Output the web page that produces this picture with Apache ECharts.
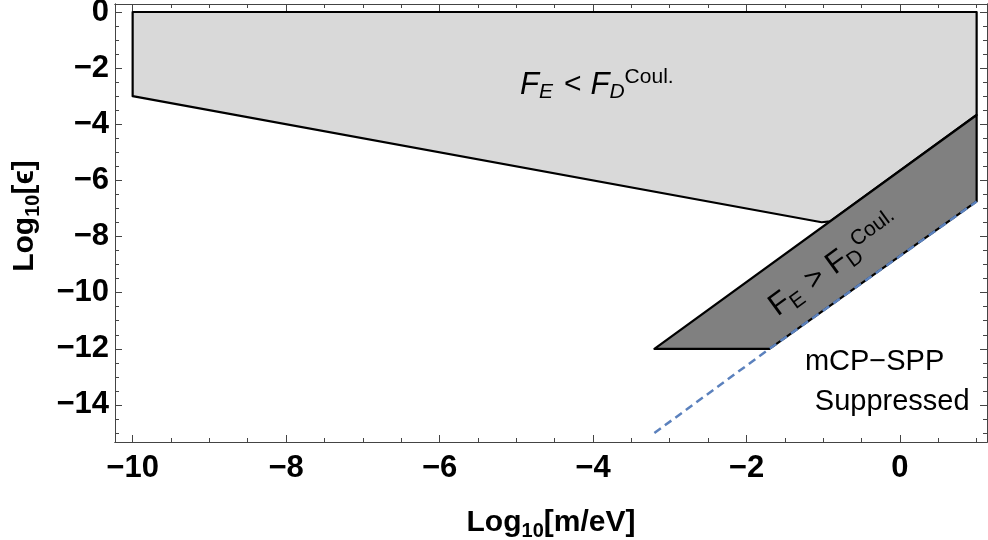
<!DOCTYPE html>
<html lang="en">
<head>
<meta charset="UTF-8">
<title>mCP regions</title>
<style>
    html, body { margin: 0; padding: 0; background: #fff; }
    #main { width: 988px; height: 540px; }
</style>
</head>
<body>
<div id="main"></div>
<script src="https://cdn.jsdelivr.net/npm/echarts@6/dist/echarts.min.js"></script>
<script>
    // axis ranges and tick labels
    var xMin = -10.23, xMax = 1.135;
    var yMin = -15.32, yMax = 0.285;
    var xTicks = [-10, -8, -6, -4, -2, 0];
    var yTicks = [0, -2, -4, -6, -8, -10, -12, -14];

    // light region: F_E < F_D^Coul.
    var lightX = [-10, 1, 1, -0.91, -1.02, -10];
    var lightY = [0, 0, -3.67, -7.46, -7.49, -3];
    // dark region: F_E > F_D^Coul.
    var darkX = [-3.2, -1.7, 1, 1];
    var darkY = [-12, -12, -6.75, -3.67];
    // mCP-SPP suppression boundary (dashed)
    var sppX = [-3.2, -1.7, 1];
    var sppY = [-15, -12, -6.75];

    function zip(xs, ys) {
        return xs.map(function (x, i) { return [x, ys[i]]; });
    }
    var lightPts = zip(lightX, lightY);
    var darkPts = zip(darkX, darkY);
    var sppPts = zip(sppX, sppY);

    // minor tick positions (every 0.5, skipping the majors)
    var xMinor = [], yMinor = [];
    for (var v = -10; v <= 1.001; v += 0.5) { if (Math.abs(v % 2) > 0.01) xMinor.push(v); }
    for (var w = -15; w <= 0.001; w += 0.5) { if (Math.abs(w % 2) > 0.01) yMinor.push(w); }

    var FONT = 'Liberation Sans';
    var frame = '#444';

    function tickText(v) {
        return v < 0 ? '\u2212' + Math.abs(v) : String(v);
    }

    var nameRich = {
        a: { fontFamily: FONT, fontWeight: 'bold', fontSize: 30, color: '#000', lineHeight: 36 },
        s: { fontFamily: FONT, fontWeight: 'bold', fontSize: 20, color: '#000', lineHeight: 20, verticalAlign: 'bottom' }
    };

    function xAxis(pos, ticks, len, withLabels) {
        var ax = {
            type: 'value', position: pos, min: xMin, max: xMax,
            axisLine: { show: true, onZero: false, lineStyle: { color: frame, width: 1 } },
            axisTick: { show: true, inside: true, length: len, customValues: ticks, lineStyle: { color: frame, width: 1 } },
            axisLabel: { show: false },
            splitLine: { show: false }
        };
        if (withLabels) {
            ax.axisLabel = {
                show: true, customValues: xTicks, margin: 11,
                color: '#000', fontFamily: FONT, fontWeight: 'bold', fontSize: 31,
                formatter: tickText
            };
            ax.name = '{a|Log}{s|10}{a|[m/eV]}';
            ax.nameLocation = 'middle';
            ax.nameGap = 63;
            ax.nameMoveOverlap = false;
            ax.nameTextStyle = { rich: nameRich };
        }
        return ax;
    }

    function yAxis(pos, ticks, len, withLabels) {
        var ax = {
            type: 'value', position: pos, min: yMin, max: yMax,
            axisLine: { show: true, onZero: false, lineStyle: { color: frame, width: 1 } },
            axisTick: { show: true, inside: true, length: len, customValues: ticks, lineStyle: { color: frame, width: 1 } },
            axisLabel: { show: false },
            splitLine: { show: false }
        };
        if (withLabels) {
            ax.axisLabel = {
                show: true, customValues: yTicks, margin: 6,
                color: '#000', fontFamily: FONT, fontWeight: 'bold', fontSize: 31,
                formatter: tickText
            };
            ax.name = '{a|Log}{s|10}{a|[\u03F5]}';
            ax.nameLocation = 'middle';
            ax.nameRotate = 90;
            ax.nameGap = 72;
            ax.nameMoveOverlap = false;
            ax.nameTextStyle = { rich: nameRich, padding: [0, 0, 0, 14] };
        }
        return ax;
    }

    function polygonSeries(pts, fill) {
        return {
            type: 'custom',
            xAxisIndex: 0, yAxisIndex: 0,
            data: pts,
            renderItem: function (params, api) {
                if (params.dataIndex !== 0) return;
                return {
                    type: 'polygon',
                    shape: { points: pts.map(function (p) { return api.coord(p); }) },
                    style: { fill: fill, stroke: '#000', lineWidth: 2.2, lineJoin: 'round' }
                };
            },
            silent: true
        };
    }

    function regionRich(italic) {
        var st = italic ? 'italic' : 'normal';
        return {
            f: { fontFamily: FONT, fontSize: 31, fontStyle: st, color: '#000', lineHeight: 36 },
            e: { fontFamily: FONT, fontSize: 21, fontStyle: st, color: '#000', lineHeight: 21, verticalAlign: 'bottom' },
            t: { fontFamily: FONT, fontSize: 30, color: '#000', lineHeight: 36, padding: [0, 9, 0, 11] },
            c: { fontFamily: FONT, fontSize: 21, color: '#000', lineHeight: 21, verticalAlign: 'top' }
        };
    }

    var chart = echarts.init(document.getElementById('main'));
    chart.setOption({
        animation: false,
        backgroundColor: '#fff',
        grid: { left: 115, right: 1, top: 4, bottom: 98, containLabel: false, outerBoundsMode: 'none' },
        xAxis: [
            xAxis('bottom', xTicks, 7, true),
            xAxis('bottom', xMinor, 4, false),
            xAxis('top', xTicks, 7, false),
            xAxis('top', xMinor, 4, false)
        ],
        yAxis: [
            yAxis('left', yTicks, 7, true),
            yAxis('left', yMinor, 4, false),
            yAxis('right', yTicks, 7, false),
            yAxis('right', yMinor, 4, false)
        ],
        series: [
            polygonSeries(lightPts, '#d9d9d9'),
            polygonSeries(darkPts, '#808080'),
            {
                type: 'line',
                xAxisIndex: 0, yAxisIndex: 0,
                data: sppPts,
                symbol: 'none',
                lineStyle: { color: '#5b81bd', width: 2.5, type: [8, 5] },
                silent: true
            },
            {
                type: 'scatter',
                xAxisIndex: 0, yAxisIndex: 0,
                symbolSize: 0,
                silent: true,
                itemStyle: { opacity: 1 },
                label: { show: true, position: 'inside', textBorderWidth: 0, color: '#000', opacity: 1 },
                data: [
                    { value: [-3.95, -2.6], label: { formatter: '{f|F}{e|E}{t|<}{f|F}{e|D}{c|Coul.}', rich: regionRich(true) } },
                    { value: [-0.85, -9.0], label: { rotate: 36, formatter: '{f|F}{e|E}{t|>}{f|F}{e|D}{c|Coul.}', rich: regionRich(false) } },
                    { value: [-0.33, -12.46], label: { formatter: 'mCP\u2212SPP', fontFamily: FONT, fontSize: 29, color: '#000', textBorderWidth: 0 } },
                    { value: [-0.1, -13.88], label: { formatter: 'Suppressed', fontFamily: FONT, fontSize: 29, color: '#000', textBorderWidth: 0 } }
                ]
            }
        ]
    });
</script>
</body>
</html>
